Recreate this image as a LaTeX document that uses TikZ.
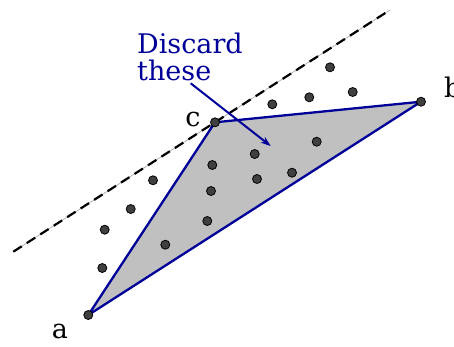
\documentclass[tikz,border=0pt]{standalone}
\usepackage{fontspec}
\setmainfont{DejaVu Serif}
\usetikzlibrary{arrows.meta}
\definecolor{navy}{HTML}{000099}
\definecolor{dotgray}{HTML}{404040}
\definecolor{hullgray}{HTML}{C0C0C0}
\tikzset{
  pt/.style={circle,draw=black,line width=0.8pt,fill=dotgray,inner sep=0pt,minimum size=9pt},
  lab/.style={font=\fontsize{27}{27}\selectfont,anchor=base,inner sep=0pt},
  hull/.style={draw=navy,line width=2.3pt,line join=round,fill=hullgray},
  sweep/.style={dash pattern=on 10pt off 6pt,line width=2.2pt},
}
\begin{document}
\begin{tikzpicture}[x=1pt,y=-1pt]
\useasboundingbox (0,0) rectangle (454,346);
% dashed line
\coordinate (d1) at (13.3,251.7);
\coordinate (d2) at (390,10);
\draw[gray!60,line width=0.8pt] (d1) -- (d2);
\draw[sweep] (d1) -- (d2);
% hull
\coordinate (A) at (88.3,315);
\coordinate (B) at (421,101.7);
\coordinate (C) at (215,122.3);
\draw[hull] (A) -- (B) -- (C) -- cycle;
% arrow
\coordinate (s) at (190.7,83.3);
\coordinate (t) at (270.7,146);
\draw[navy,line width=2pt,-{Stealth[length=10pt,width=7pt]}] (s) -- (t);
% points
\node[pt] (pa) at (A) {};
\node[pt] (pb) at (B) {};
\node[pt] (pc) at (C) {};
\node[pt] (p1) at (330,67.3) {};
\node[pt] (p2) at (309.3,97.3) {};
\node[pt] (p3) at (352.7,92) {};
\node[pt] (p4) at (272.3,104.3) {};
\node[pt] (p5) at (316.7,141.7) {};
\node[pt] (p6) at (254.7,154) {};
\node[pt] (p7) at (212.3,165) {};
\node[pt] (p8) at (257,179) {};
\node[pt] (p9) at (292,172.7) {};
\node[pt] (p10) at (211,191) {};
\node[pt] (p11) at (207.3,221) {};
\node[pt] (p12) at (165.3,244.7) {};
\node[pt] (p13) at (153,180.3) {};
\node[pt] (p14) at (130.7,209) {};
\node[pt] (p15) at (104.7,229.7) {};
\node[pt] (p16) at (102.3,268) {};
% labels
\node[lab] (la) at (60,338) {a};
\node[lab,anchor=base west] (lb) at (444,97) {b};
\node[lab] (lc) at (193,126.5) {c};
\node[lab,anchor=base west,text=navy,align=left] (txt) at (137,80.3) {Discard\\these};
\end{tikzpicture}
\end{document}
